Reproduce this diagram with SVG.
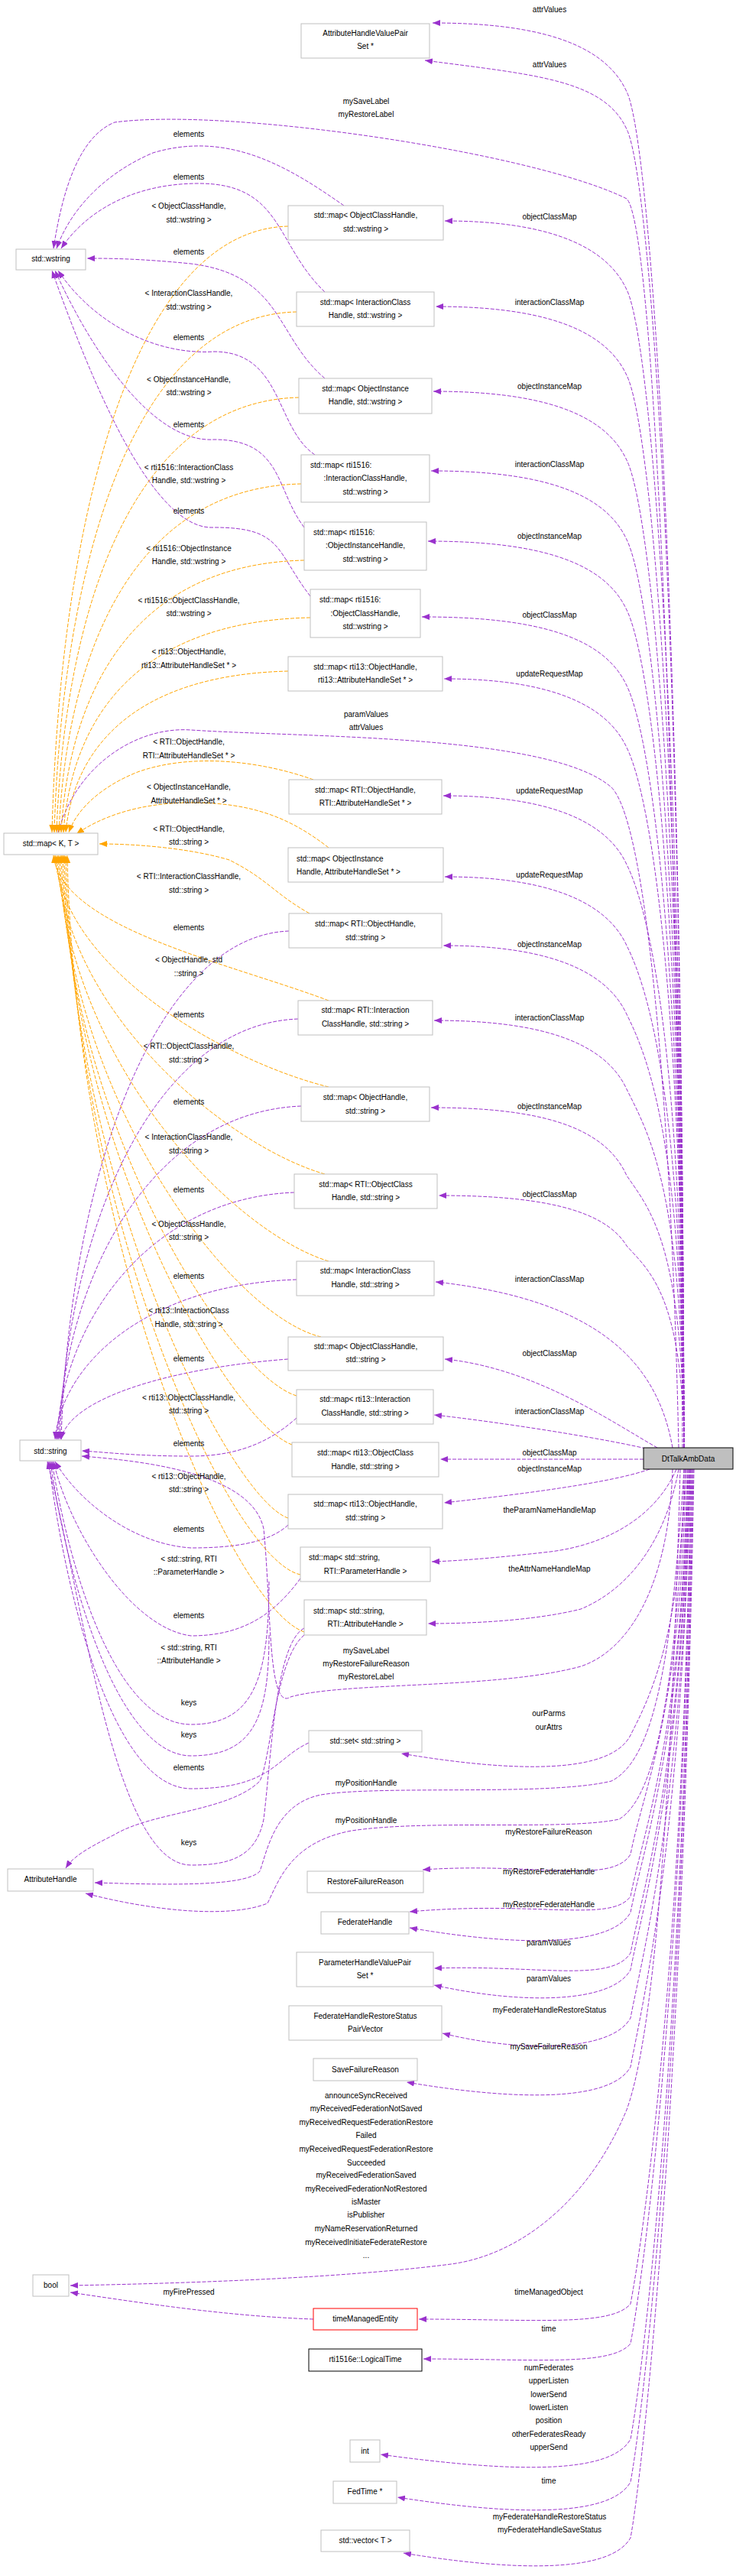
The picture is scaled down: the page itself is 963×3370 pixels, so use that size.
<svg xmlns="http://www.w3.org/2000/svg" width="963" height="3370" viewBox="0 0 963 3370">
<style>
text{font-family:"Liberation Sans",Arial,sans-serif;font-size:10px;text-anchor:middle;fill:#000}
.s{text-anchor:start}
.n rect{fill:#fff;stroke:#bfbfbf;stroke-width:1}
path.p{fill:none;stroke:#9a32cd;stroke-width:1;stroke-dasharray:5,2;marker-end:url(#ap)}
path.o{fill:none;stroke:#ffa500;stroke-width:1;stroke-dasharray:5,2;marker-end:url(#ao)}
</style>
<defs>
<marker id="ap" markerUnits="userSpaceOnUse" markerWidth="11" markerHeight="8" refX="10" refY="4" orient="auto"><path d="M0,0 L10,4 L0,8 z" fill="#9a32cd"/></marker>
<marker id="ao" markerUnits="userSpaceOnUse" markerWidth="11" markerHeight="8" refX="10" refY="4" orient="auto"><path d="M0,0 L10,4 L0,8 z" fill="#ffa500"/></marker>
</defs>
<rect width="963" height="3370" fill="#fff"/>
<g id="edges">
<path class="p" d="M895,1894 C893,776 850,180 820,120 C790,55 700,30 566,30"/>
<path class="p" d="M895,1894 C893,805 850,229 820,169 C790,104 700,98 556,79"/>
<path class="p" d="M893,1894 C890,1200 860,300 820,260 C700,200 300,140 150,160 C100,180 80,260 70,325"/>
<path class="p" d="M895,1894 C893,931 850,439 820,379 C790,314 700,289 582,289"/>
<path class="p" d="M895,1894 C893,998 850,551 820,491 C790,426 700,401 570,401"/>
<path class="p" d="M895,1894 C893,1065 850,662 820,602 C790,537 700,512 567,512"/>
<path class="p" d="M895,1894 C893,1127 850,766 820,706 C790,641 700,616 564,616"/>
<path class="p" d="M895,1894 C893,1182 850,858 820,798 C790,733 700,708 560,708"/>
<path class="p" d="M895,1894 C893,1242 850,957 820,897 C790,832 700,807 552,807"/>
<path class="p" d="M895,1894 C893,1290 850,1038 820,978 C790,913 700,888 581,888"/>
<path class="p" d="M888,1894 C880,1500 850,1080 800,1030 C720,960 400,965 250,955 C180,950 100,1000 76,1089"/>
<path class="p" d="M895,1894 C893,1382 850,1191 820,1131 C790,1066 700,1041 580,1041"/>
<path class="p" d="M895,1894 C893,1446 850,1297 820,1237 C790,1172 700,1147 582,1147"/>
<path class="p" d="M895,1894 C893,1500 850,1387 820,1327 C790,1262 700,1237 580,1237"/>
<path class="p" d="M895,1894 C893,1559 850,1485 820,1425 C790,1360 700,1335 568,1335"/>
<path class="p" d="M895,1894 C893,1627 850,1582 820,1538 C790,1471 700,1449 564,1449"/>
<path class="p" d="M895,1894 C893,1696 850,1663 820,1630 C790,1580 700,1564 574,1564"/>
<path class="p" d="M880,1894 C860,1780 780,1700 570,1677"/>
<path class="p" d="M860,1894 C800,1860 700,1790 582,1778"/>
<path class="p" d="M845,1895 C780,1880 650,1860 568,1851"/>
<path class="p" d="M842,1909 L576,1909"/>
<path class="p" d="M850,1922 C800,1940 680,1955 581,1966"/>
<path class="p" d="M885,1922 C860,1980 800,2020 720,2030 C650,2038 600,2042 565,2043"/>
<path class="p" d="M888,1922 C870,2020 820,2080 760,2105 C700,2120 620,2124 560,2124"/>
<path class="p" d="M880,1922 C875,2080 820,2160 760,2180 C650,2210 450,2200 380,2220 C350,2240 355,2100 345,2000 C330,1930 200,1912 107,1905"/>
<path class="p" d="M895,1922 C893,2145 845,2230 825,2270 C800,2320 680,2320 525,2294"/>
<path class="p" d="M895,1922 C880,2150 860,2300 800,2330 C720,2350 500,2335 420,2348 C360,2360 350,2420 340,2448 C320,2470 200,2465 124,2463"/>
<path class="p" d="M897,1922 C885,2200 860,2350 810,2380 C740,2395 560,2380 460,2395 C380,2410 365,2460 350,2490 C300,2510 200,2500 112,2477"/>
<path class="p" d="M897,1922 C893,2236 840,2346 825,2426 C800,2466 700,2436 553,2446"/>
<path class="p" d="M899,1922 C893,2269 840,2401 825,2481 C800,2516 700,2486 536,2501"/>
<path class="p" d="M900,1922 C893,2282 840,2422 825,2502 C800,2547 680,2547 536,2522"/>
<path class="p" d="M901,1922 C893,2314 840,2475 825,2555 C800,2595 700,2570 568,2575"/>
<path class="p" d="M902,1922 C893,2327 840,2497 825,2577 C800,2622 680,2622 568,2597"/>
<path class="p" d="M903,1922 C893,2365 840,2560 825,2640 C800,2685 680,2685 579,2660"/>
<path class="p" d="M903,1922 C893,2403 840,2624 825,2704 C800,2749 680,2749 532,2724"/>
<path class="p" d="M890,1922 C880,2300 860,2650 820,2760 C770,2880 680,2950 590,2962 C450,2980 250,2987 92,2990"/>
<path class="p" d="M410,3034 C300,3030 200,3015 92,2999"/>
<path class="p" d="M904,1922 C893,2589 840,2934 825,3014 C800,3044 700,3034 548,3034"/>
<path class="p" d="M905,1922 C893,2620 840,2986 825,3066 C800,3096 700,3086 554,3086"/>
<path class="p" d="M906,1922 C893,2695 840,3111 825,3191 C800,3236 680,3236 498,3211"/>
<path class="p" d="M907,1922 C893,2729 840,3167 825,3247 C800,3292 680,3292 520,3267"/>
<path class="p" d="M908,1922 C893,2773 840,3240 825,3320 C800,3365 680,3365 528,3340"/>
<path class="p" d="M450,269 C380,220 300,170 200,200 C130,230 90,280 74,325"/>
<path class="p" d="M425,382 C360,320 370,240 260,240 C170,240 110,280 80,325"/>
<path class="p" d="M425,495 C360,440 370,360 250,345 C180,338 140,338 114,338"/>
<path class="p" d="M412,595 C360,560 370,460 280,460 C200,465 120,420 76,354"/>
<path class="p" d="M398,690 C360,640 370,575 280,575 C200,580 120,460 72,354"/>
<path class="p" d="M406,780 C360,720 370,690 280,690 C200,695 120,500 68,354"/>
<path class="p" d="M378,1218 C200,1225 90,1550 80,1883"/>
<path class="p" d="M390,1333 C200,1340 88,1608 78,1883"/>
<path class="p" d="M394,1447 C200,1455 86,1665 76,1883"/>
<path class="p" d="M385,1560 C200,1567 84,1722 74,1883"/>
<path class="p" d="M388,1674 C200,1680 82,1778 72,1883"/>
<path class="p" d="M377,1778 C220,1790 90,1830 80,1883"/>
<path class="p" d="M388,1855 C360,1880 320,1905 250,1905 C180,1905 140,1900 107,1898"/>
<path class="p" d="M377,1995 C350,2020 300,2025 250,2025 C170,2020 100,1960 72,1912"/>
<path class="p" d="M393,2065 C360,2110 320,2140 250,2140 C170,2130 90,2000 70,1912"/>
<path class="p" d="M352,2069 C352,2200 330,2256 250,2256 C150,2256 90,2050 68,1912"/>
<path class="p" d="M352,2139 C352,2250 330,2297 250,2297 C150,2297 85,2050 66,1912"/>
<path class="p" d="M404,2280 C360,2300 355,2340 250,2340 C140,2340 80,2050 64,1912"/>
<path class="p" d="M398,2139 C360,2170 355,2300 340,2330 C300,2370 200,2370 150,2400 C110,2420 95,2430 86,2444"/>
<path class="p" d="M398,2130 C360,2150 355,2300 345,2380 C335,2430 300,2440 250,2440 C150,2440 110,2100 62,1912"/>
<path class="o" d="M377,296 C170,301 78,693 68,1089"/>
<path class="o" d="M388,408 C170,413 81,749 71,1089"/>
<path class="o" d="M391,520 C170,525 84,805 74,1089"/>
<path class="o" d="M394,633 C170,638 87,861 77,1089"/>
<path class="o" d="M398,733 C170,738 90,911 80,1089"/>
<path class="o" d="M406,808 C170,813 93,949 83,1089"/>
<path class="o" d="M377,878 C170,883 96,984 86,1089"/>
<path class="o" d="M410,1020 C340,995 250,985 180,1010 C130,1030 100,1060 90,1089"/>
<path class="o" d="M430,1109 C380,1070 330,1050 250,1050 C180,1050 130,1070 100,1091"/>
<path class="o" d="M405,1195 C360,1170 350,1150 300,1125 C250,1110 180,1104 130,1104"/>
<path class="o" d="M430,1309 C300,1260 80,1214 70,1119"/>
<path class="o" d="M430,1422 C300,1390 82,1270 72,1119"/>
<path class="o" d="M425,1536 C300,1500 84,1327 74,1119"/>
<path class="o" d="M430,1650 C300,1610 86,1384 76,1119"/>
<path class="o" d="M420,1749 C300,1720 88,1434 78,1119"/>
<path class="o" d="M388,1826 C300,1800 90,1472 80,1119"/>
<path class="o" d="M382,1890 C300,1860 92,1504 82,1119"/>
<path class="o" d="M377,1986 C300,1960 94,1552 84,1119"/>
<path class="o" d="M393,2060 C300,2040 96,1589 86,1119"/>
<path class="o" d="M398,2135 C300,2100 98,1627 88,1119"/>
</g>
<g id="n1" class="n"><rect x="394" y="31" width="168" height="45"/><text x="478" y="47">AttributeHandleValuePair</text><text x="478" y="64">Set *</text></g>
<g id="n2" class="n"><rect x="21" y="326" width="91" height="27"/><text x="66.5" y="342">std::wstring</text></g>
<g id="n3" class="n"><rect x="377" y="269" width="203" height="45"/><text x="478.5" y="285">std::map&lt; ObjectClassHandle,</text><text x="478.5" y="303">std::wstring &gt;</text></g>
<g id="n4" class="n"><rect x="388" y="382" width="180" height="45"/><text x="478" y="399">std::map&lt; InteractionClass</text><text x="478" y="416">Handle, std::wstring &gt;</text></g>
<g id="n5" class="n"><rect x="391" y="495" width="174" height="46"/><text x="478" y="512">std::map&lt; ObjectInstance</text><text x="478" y="529">Handle, std::wstring &gt;</text></g>
<g id="n6" class="n"><rect x="394" y="595" width="168" height="62"/><text class="s" x="406" y="612">std::map&lt; rti1516:</text><text x="478" y="629">:InteractionClassHandle,</text><text x="478" y="647">std::wstring &gt;</text></g>
<g id="n7" class="n"><rect x="398" y="683" width="160" height="63"/><text class="s" x="410" y="700">std::map&lt; rti1516:</text><text x="478" y="717">:ObjectInstanceHandle,</text><text x="478" y="735">std::wstring &gt;</text></g>
<g id="n8" class="n"><rect x="406" y="771" width="144" height="63"/><text class="s" x="418" y="788">std::map&lt; rti1516:</text><text x="478" y="806">:ObjectClassHandle,</text><text x="478" y="823">std::wstring &gt;</text></g>
<g id="n9" class="n"><rect x="377" y="859" width="202" height="45"/><text x="478" y="876">std::map&lt; rti13::ObjectHandle,</text><text x="478" y="893">rti13::AttributeHandleSet * &gt;</text></g>
<g id="n10" class="n"><rect x="5" y="1090" width="123" height="28"/><text x="66.5" y="1107">std::map&lt; K, T &gt;</text></g>
<g id="n11" class="n"><rect x="378" y="1020" width="200" height="45"/><text x="478" y="1037">std::map&lt; RTI::ObjectHandle,</text><text x="478" y="1054">RTI::AttributeHandleSet * &gt;</text></g>
<g id="n12" class="n"><rect x="377" y="1109" width="203" height="45"/><text class="s" x="388" y="1127">std::map&lt; ObjectInstance</text><text class="s" x="388" y="1144">Handle, AttributeHandleSet * &gt;</text></g>
<g id="n13" class="n"><rect x="378" y="1195" width="200" height="45"/><text x="478" y="1212">std::map&lt; RTI::ObjectHandle,</text><text x="478" y="1230">std::string &gt;</text></g>
<g id="n14" class="n"><rect x="390" y="1309" width="176" height="45"/><text x="478" y="1325">std::map&lt; RTI::Interaction</text><text x="478" y="1343">ClassHandle, std::string &gt;</text></g>
<g id="n15" class="n"><rect x="394" y="1422" width="168" height="45"/><text x="478" y="1439">std::map&lt; ObjectHandle,</text><text x="478" y="1457">std::string &gt;</text></g>
<g id="n16" class="n"><rect x="385" y="1536" width="187" height="45"/><text x="478.5" y="1553">std::map&lt; RTI::ObjectClass</text><text x="478.5" y="1570">Handle, std::string &gt;</text></g>
<g id="n17" class="n"><rect x="388" y="1650" width="180" height="45"/><text x="478" y="1666">std::map&lt; InteractionClass</text><text x="478" y="1684">Handle, std::string &gt;</text></g>
<g id="n18" class="n"><rect x="377" y="1749" width="203" height="44"/><text x="478.5" y="1765">std::map&lt; ObjectClassHandle,</text><text x="478.5" y="1782">std::string &gt;</text></g>
<g id="n19" class="n"><rect x="388" y="1818" width="179" height="45"/><text x="477.5" y="1834">std::map&lt; rti13::Interaction</text><text x="477.5" y="1852">ClassHandle, std::string &gt;</text></g>
<g id="n20" class="n"><rect x="26" y="1884" width="80" height="27"/><text x="66" y="1902">std::string</text></g>
<g id="n21" class="n"><rect x="382" y="1887" width="192" height="45"/><text x="478" y="1904">std::map&lt; rti13::ObjectClass</text><text x="478" y="1922">Handle, std::string &gt;</text></g>
<g id="n22"><rect x="842" y="1894" width="117" height="28" fill="#bfbfbf" stroke="#000"/><text x="900.5" y="1912">DtTalkAmbData</text></g>
<g id="n23" class="n"><rect x="377" y="1955" width="202" height="45"/><text x="478" y="1971">std::map&lt; rti13::ObjectHandle,</text><text x="478" y="1989">std::string &gt;</text></g>
<g id="n24" class="n"><rect x="393" y="2024" width="170" height="45"/><text class="s" x="404" y="2041">std::map&lt; std::string,</text><text x="478" y="2059">RTI::ParameterHandle &gt;</text></g>
<g id="n25" class="n"><rect x="398" y="2093" width="160" height="46"/><text class="s" x="410" y="2111">std::map&lt; std::string,</text><text x="478" y="2128">RTI::AttributeHandle &gt;</text></g>
<g id="n26" class="n"><rect x="404" y="2264" width="148" height="28"/><text x="478" y="2281">std::set&lt; std::string &gt;</text></g>
<g id="n27" class="n"><rect x="10" y="2445" width="112" height="29"/><text x="66" y="2462">AttributeHandle</text></g>
<g id="n28" class="n"><rect x="402" y="2448" width="152" height="28"/><text x="478" y="2465">RestoreFailureReason</text></g>
<g id="n29" class="n"><rect x="420" y="2501" width="115" height="29"/><text x="477.5" y="2518">FederateHandle</text></g>
<g id="n30" class="n"><rect x="388" y="2554" width="179" height="45"/><text x="477.5" y="2571">ParameterHandleValuePair</text><text x="477.5" y="2588">Set *</text></g>
<g id="n31" class="n"><rect x="378" y="2624" width="200" height="45"/><text x="478" y="2641">FederateHandleRestoreStatus</text><text x="478" y="2658">PairVector</text></g>
<g id="n32" class="n"><rect x="410" y="2693" width="136" height="29"/><text x="478" y="2711">SaveFailureReason</text></g>
<g id="n33" class="n"><rect x="43" y="2976" width="47" height="28"/><text x="66.5" y="2993">bool</text></g>
<g id="n34"><rect x="410" y="3020" width="136" height="28" fill="#fff" stroke="#ff0000"/><text x="478" y="3037">timeManagedEntity</text></g>
<g id="n35"><rect x="404" y="3073" width="148" height="29" fill="#fff" stroke="#000"/><text x="478" y="3090">rti1516e::LogicalTime</text></g>
<g id="n36" class="n"><rect x="458" y="3192" width="39" height="29"/><text x="477.5" y="3210">int</text></g>
<g id="n37" class="n"><rect x="436" y="3246" width="83" height="29"/><text x="477.5" y="3263">FedTime *</text></g>
<g id="n38" class="n"><rect x="420" y="3310" width="116" height="28"/><text x="478" y="3327">std::vector&lt; T &gt;</text></g>
<g id="labels">
<text x="719" y="16">attrValues</text>
<text x="719" y="88">attrValues</text>
<text x="479" y="136">mySaveLabel</text><text x="479" y="153">myRestoreLabel</text>
<text x="247" y="179">elements</text>
<text x="247" y="235">elements</text>
<text x="247" y="273">&lt; ObjectClassHandle,</text><text x="247" y="291">std::wstring &gt;</text>
<text x="719" y="287">objectClassMap</text>
<text x="247" y="333">elements</text>
<text x="247" y="387">&lt; InteractionClassHandle,</text><text x="247" y="405">std::wstring &gt;</text>
<text x="719" y="399">interactionClassMap</text>
<text x="247" y="445">elements</text>
<text x="247" y="500">&lt; ObjectInstanceHandle,</text><text x="247" y="517">std::wstring &gt;</text>
<text x="719" y="509">objectInstanceMap</text>
<text x="247" y="559">elements</text>
<text x="247" y="615">&lt; rti1516::InteractionClass</text><text x="247" y="632">Handle, std::wstring &gt;</text>
<text x="719" y="611">interactionClassMap</text>
<text x="247" y="672">elements</text>
<text x="247" y="721">&lt; rti1516::ObjectInstance</text><text x="247" y="738">Handle, std::wstring &gt;</text>
<text x="719" y="705">objectInstanceMap</text>
<text x="247" y="789">&lt; rti1516::ObjectClassHandle,</text><text x="247" y="806">std::wstring &gt;</text>
<text x="719" y="808">objectClassMap</text>
<text x="247" y="856">&lt; rti13::ObjectHandle,</text><text x="247" y="874">rti13::AttributeHandleSet * &gt;</text>
<text x="719" y="885">updateRequestMap</text>
<text x="479" y="938">paramValues</text><text x="479" y="955">attrValues</text>
<text x="247" y="974">&lt; RTI::ObjectHandle,</text><text x="247" y="992">RTI::AttributeHandleSet * &gt;</text>
<text x="719" y="1038">updateRequestMap</text>
<text x="247" y="1033">&lt; ObjectInstanceHandle,</text><text x="247" y="1051">AttributeHandleSet * &gt;</text>
<text x="719" y="1148">updateRequestMap</text>
<text x="247" y="1088">&lt; RTI::ObjectHandle,</text><text x="247" y="1105">std::string &gt;</text>
<text x="719" y="1239">objectInstanceMap</text>
<text x="247" y="1150">&lt; RTI::InteractionClassHandle,</text><text x="247" y="1168">std::string &gt;</text>
<text x="247" y="1217">elements</text>
<text x="247" y="1259">&lt; ObjectHandle, std</text><text x="247" y="1277">::string &gt;</text>
<text x="719" y="1335">interactionClassMap</text>
<text x="247" y="1331">elements</text>
<text x="247" y="1372">&lt; RTI::ObjectClassHandle,</text><text x="247" y="1390">std::string &gt;</text>
<text x="719" y="1451">objectInstanceMap</text>
<text x="247" y="1445">elements</text>
<text x="247" y="1491">&lt; InteractionClassHandle,</text><text x="247" y="1509">std::string &gt;</text>
<text x="719" y="1566">objectClassMap</text>
<text x="247" y="1560">elements</text>
<text x="247" y="1605">&lt; ObjectClassHandle,</text><text x="247" y="1622">std::string &gt;</text>
<text x="719" y="1677">interactionClassMap</text>
<text x="247" y="1673">elements</text>
<text x="247" y="1718">&lt; rti13::InteractionClass</text><text x="247" y="1736">Handle, std::string &gt;</text>
<text x="719" y="1774">objectClassMap</text>
<text x="247" y="1781">elements</text>
<text x="719" y="1850">interactionClassMap</text>
<text x="247" y="1832">&lt; rti13::ObjectClassHandle,</text><text x="247" y="1849">std::string &gt;</text>
<text x="247" y="1892">elements</text>
<text x="719" y="1904">objectClassMap</text>
<text x="719" y="1925">objectInstanceMap</text>
<text x="247" y="1935">&lt; rti13::ObjectHandle,</text><text x="247" y="1952">std::string &gt;</text>
<text x="719" y="1979">theParamNameHandleMap</text>
<text x="247" y="2004">elements</text>
<text x="247" y="2043">&lt; std::string, RTI</text><text x="247" y="2060">::ParameterHandle &gt;</text>
<text x="719" y="2056">theAttrNameHandleMap</text>
<text x="247" y="2117">elements</text>
<text x="247" y="2159">&lt; std::string, RTI</text><text x="247" y="2176">::AttributeHandle &gt;</text>
<text x="479" y="2163">mySaveLabel</text><text x="479" y="2180">myRestoreFailureReason</text><text x="479" y="2197">myRestoreLabel</text>
<text x="247" y="2231">keys</text>
<text x="718" y="2245">ourParms</text><text x="718" y="2263">ourAttrs</text>
<text x="247" y="2273">keys</text>
<text x="247" y="2316">elements</text>
<text x="479" y="2336">myPositionHandle</text>
<text x="479" y="2385">myPositionHandle</text>
<text x="718" y="2400">myRestoreFailureReason</text>
<text x="247" y="2414">keys</text>
<text x="718" y="2452">myRestoreFederateHandle</text>
<text x="718" y="2495">myRestoreFederateHandle</text>
<text x="718" y="2545">paramValues</text>
<text x="718" y="2592">paramValues</text>
<text x="719" y="2633">myFederateHandleRestoreStatus</text>
<text x="718" y="2681">mySaveFailureReason</text>
<text x="479" y="2745">announceSyncReceived</text>
<text x="479" y="2762">myReceivedFederationNotSaved</text>
<text x="479" y="2780">myReceivedRequestFederationRestore</text>
<text x="479" y="2797">Failed</text>
<text x="479" y="2815">myReceivedRequestFederationRestore</text>
<text x="479" y="2833">Succeeded</text>
<text x="479" y="2849">myReceivedFederationSaved</text>
<text x="479" y="2867">myReceivedFederationNotRestored</text>
<text x="479" y="2884">isMaster</text>
<text x="479" y="2901">isPublisher</text>
<text x="479" y="2919">myNameReservationReturned</text>
<text x="479" y="2937">myReceivedInitiateFederateRestore</text>
<text x="479" y="2954">...</text>
<text x="247" y="3002">myFirePressed</text>
<text x="718" y="3002">timeManagedObject</text>
<text x="718" y="3050">time</text>
<text x="718" y="3101">numFederates</text>
<text x="718" y="3118">upperListen</text>
<text x="718" y="3136">lowerSend</text>
<text x="718" y="3153">lowerListen</text>
<text x="718" y="3170">position</text>
<text x="718" y="3188">otherFederatesReady</text>
<text x="718" y="3205">upperSend</text>
<text x="718" y="3249">time</text>
<text x="719" y="3296">myFederateHandleRestoreStatus</text>
<text x="719" y="3313">myFederateHandleSaveStatus</text>
</g>
</svg>
